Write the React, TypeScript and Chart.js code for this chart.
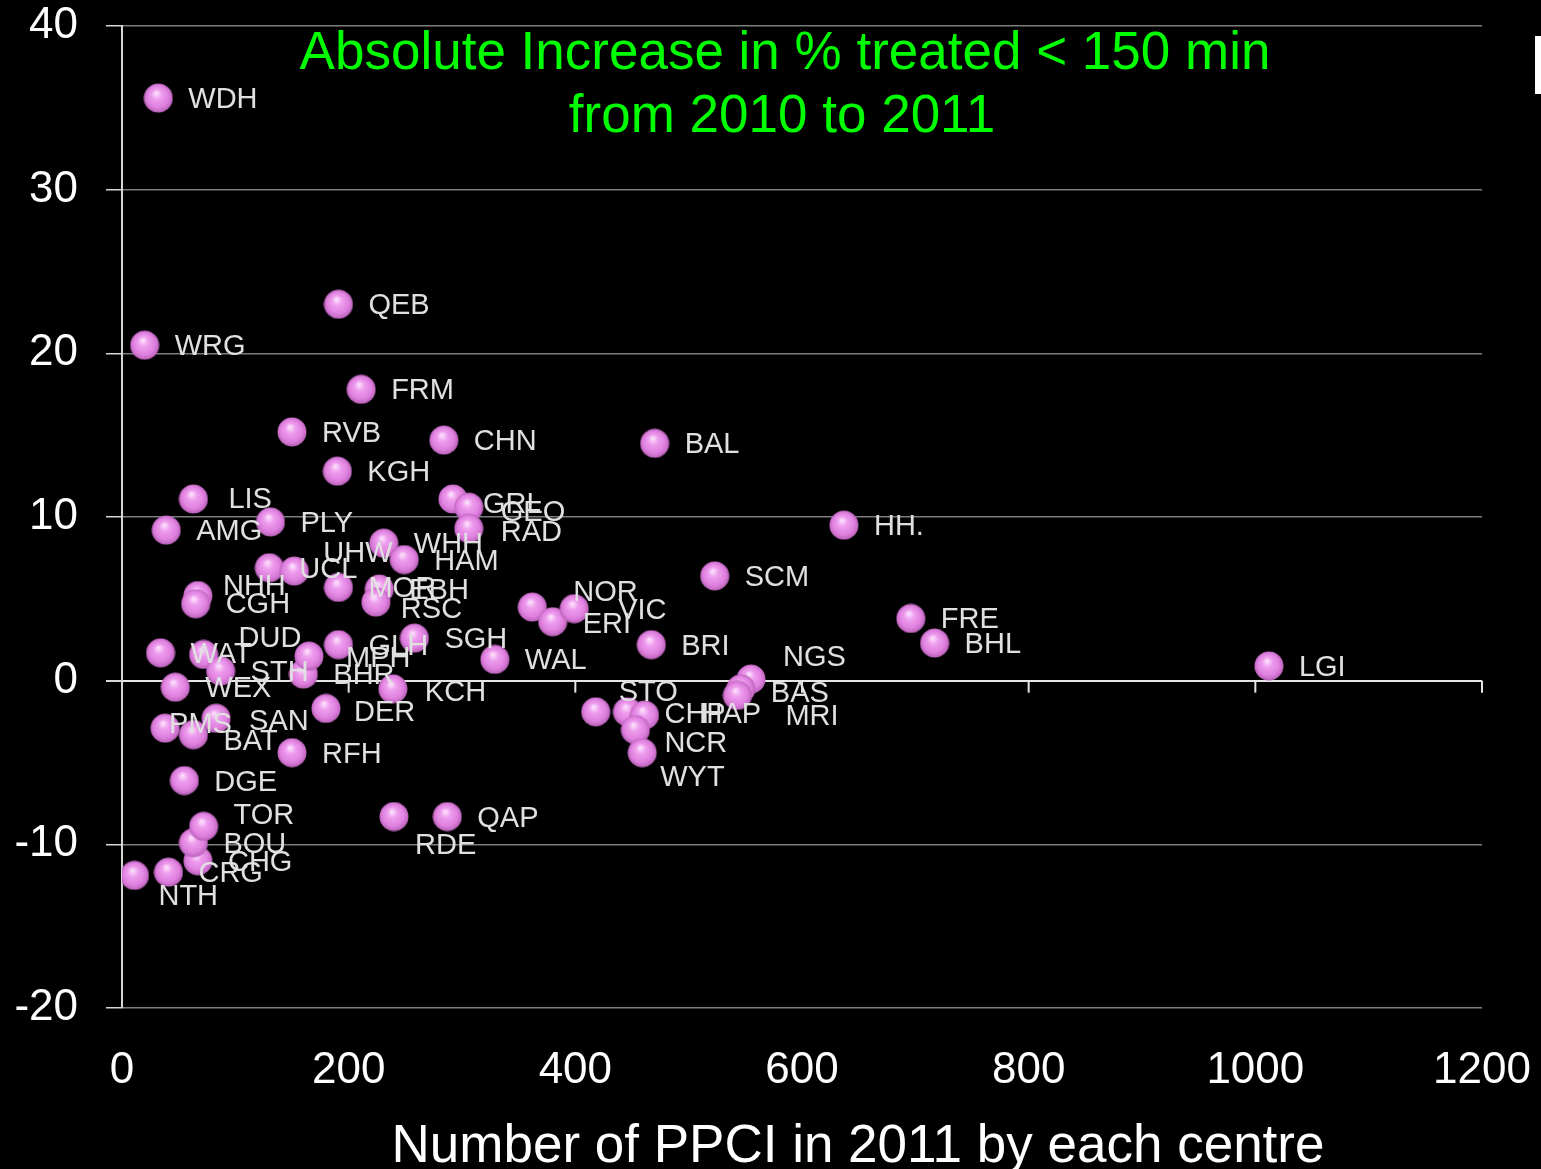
import React, { useEffect, useRef } from "react";
import { Chart, registerables } from "chart.js";

Chart.register(...registerables);

// ---- data ----
const centres = [
  "WDH", "QEB", "WRG", "FRM", "RVB", "CHN", "BAL", "KGH", "LIS", "GRL",
  "GEO", "RAD", "AMG", "PLY", "HH.", "WHH", "HAM", "NHH", "CGH", "UCL",
  "UHW", "MOR", "EBH", "RSC", "SCM", "NOR", "ERI", "VIC", "BRI", "FRE",
  "BHL", "LGI", "WAT", "DUD", "STH", "WEX", "BHR", "MPH", "GLH", "SGH",
  "WAL", "KCH", "DER", "STO", "CHP", "HAP", "NCR", "WYT", "NGS", "BAS",
  "MRI", "QAP", "RDE", "NTH", "CRG", "CHG", "BOU", "TOR", "DGE", "RFH",
  "BAT", "SAN", "PMS",
];

const ppci2011 = [
  32, 191, 20, 211, 150, 284, 470, 190, 63, 292,
  306, 306, 39, 131, 637, 231, 249, 67, 65, 130,
  152, 191, 227, 224, 523, 362, 380, 399, 467, 696,
  717, 1012, 34, 72, 87, 47, 160, 165, 191, 258,
  329, 239, 180, 418, 446, 461, 453, 459, 555, 546,
  543, 287, 240, 11, 41, 67, 63, 72, 55, 150,
  63, 83, 38,
];

const increasePct = [
  35.6, 23.0, 20.5, 17.8, 15.2, 14.7, 14.5, 12.8, 11.1, 11.1,
  10.6, 9.3, 9.2, 9.7, 9.5, 8.4, 7.4, 5.2, 4.7, 6.9,
  6.7, 5.7, 5.6, 4.8, 6.4, 4.5, 3.6, 4.4, 2.2, 3.8,
  2.3, 0.9, 1.7, 1.6, 0.6, -0.4, 0.4, 1.5, 2.2, 2.6,
  1.3, -0.5, -1.7, -1.9, -1.9, -2.1, -3.0, -4.4, 0.1, -0.5,
  -0.9, -8.3, -8.3, -11.9, -11.7, -11.0, -9.9, -8.9, -6.1, -4.4,
  -3.3, -2.3, -2.9,
];

const xTickValues = [0, 200, 400, 600, 800, 1000, 1200];
const yTickValues = [-20, -10, 0, 10, 20, 30, 40];

const titleLines = ["Absolute Increase in % treated < 150 min", "from 2010 to 2011"];
const xAxisTitle = "Number of PPCI in 2011 by each centre";

// ---- label placement (pixel offsets from the point centre) ----
const DEFAULT_OFFSET: [number, number] = [30, 2];
const labelOffsets: Record<string, [number, number]> = {
  UHW: [29, -17], NHH: [25, -9], CGH: [30, 1], RSC: [25, 8], NOR: [41, -14],
  VIC: [44, 2], ERI: [30, 3], DUD: [35, -15], STO: [23, -19], CHP: [37, 3],
  HAP: [57, 0], NCR: [29, 14], WYT: [18, 25], NGS: [32, -21], BAS: [30, 5],
  MRI: [48, 22], NTH: [24, 22], TOR: [30, -10], BAT: [30, 7], SAN: [33, 4],
  PMS: [4, -3], MPH: [37, 3], RDE: [21, 29], GRL: [30, 6], GEO: [32, 6],
  RAD: [32, 5], KCH: [32, 4], DER: [28, 5], LIS: [35, 1],
};

const FONT = '"Liberation Sans", Arial, Helvetica, sans-serif';

function makeSphere(): HTMLCanvasElement {
  const size = 30;
  const c = document.createElement("canvas");
  c.width = size;
  c.height = size;
  const g = c.getContext("2d")!;
  const r = size / 2;
  const grad = g.createRadialGradient(r - 2, r - 5, 1, r, r, r);
  grad.addColorStop(0, "#fbdcfb");
  grad.addColorStop(0.3, "#ee9cee");
  grad.addColorStop(0.72, "#df80df");
  grad.addColorStop(1, "#b45eb4");
  g.fillStyle = grad;
  g.beginPath();
  g.arc(r, r, r - 0.5, 0, Math.PI * 2);
  g.fill();
  return c;
}

export default function App() {
  const canvasRef = useRef<HTMLCanvasElement | null>(null);

  useEffect(() => {
    document.body.style.margin = "0";
    document.body.style.background = "#000";
    const canvas = canvasRef.current;
    if (!canvas) return;

    const sphere = makeSphere();
    const points = centres.map((_, i) => ({ x: ppci2011[i], y: increasePct[i] }));

    const decorPlugin = {
      id: "decor",
      beforeDatasetsDraw(chart: any) {
        const { ctx, scales } = chart;
        const y0 = scales.y.getPixelForValue(0);
        ctx.save();
        ctx.strokeStyle = "#e6e6e6";
        ctx.lineWidth = 2;
        xTickValues.forEach((v) => {
          if (v === 0) return;
          const px = scales.x.getPixelForValue(v);
          ctx.beginPath();
          ctx.moveTo(px, y0);
          ctx.lineTo(px, y0 + 12);
          ctx.stroke();
        });
        ctx.restore();
      },
      afterDatasetsDraw(chart: any) {
        const { ctx } = chart;
        const meta = chart.getDatasetMeta(0);
        ctx.save();
        ctx.font = `29px ${FONT}`;
        ctx.fillStyle = "#e0e0e0";
        ctx.textAlign = "left";
        ctx.textBaseline = "middle";
        meta.data.forEach((el: any, i: number) => {
          const name = centres[i];
          const [dx, dy] = labelOffsets[name] || DEFAULT_OFFSET;
          ctx.fillText(name, el.x + dx, el.y + dy);
        });
        ctx.restore();
      },
      afterDraw(chart: any) {
        const { ctx } = chart;
        ctx.save();
        ctx.font = `53px ${FONT}`;
        ctx.fillStyle = "#00ff00";
        ctx.textAlign = "center";
        ctx.textBaseline = "alphabetic";
        ctx.fillText(titleLines[0], 785, 69);
        ctx.fillText(titleLines[1], 782, 132);
        ctx.fillStyle = "#ffffff";
        ctx.fillText(xAxisTitle, 858, 1162);
        // small slide artefact at right edge
        ctx.fillStyle = "#ffffff";
        ctx.fillRect(1535, 36, 6, 58);
        ctx.restore();
      },
    };

    const chart = new Chart(canvas, {
      type: "scatter",
      data: {
        datasets: [
          {
            data: points,
            pointStyle: sphere as any,
            pointRadius: 15,
            pointHoverRadius: 15,
          },
        ],
      },
      options: {
        responsive: false,
        animation: false,
        events: [],
        layout: { padding: { top: 26, right: 59, left: 0, bottom: 0 } },
        plugins: {
          legend: { display: false },
          tooltip: { enabled: false },
          title: { display: false },
        },
        scales: {
          x: {
            type: "linear",
            min: 0,
            max: 1200,
            afterBuildTicks: (scale: any) => {
              scale.ticks = xTickValues.map((v) => ({ value: v }));
            },
            afterFit: (scale: any) => {
              scale.height = 161;
              scale.paddingLeft = 0;
              scale.paddingRight = 0;
            },
            grid: { display: false, drawTicks: false },
            border: { display: false },
            ticks: {
              color: "#ffffff",
              font: { size: 44, family: FONT },
              padding: 36,
              maxRotation: 0,
              autoSkip: false,
              callback: (v: any) => String(v),
            },
          },
          y: {
            type: "linear",
            min: -20,
            max: 40,
            afterBuildTicks: (scale: any) => {
              scale.ticks = yTickValues.map((v) => ({ value: v }));
            },
            afterFit: (scale: any) => {
              scale.width = 122;
              scale.paddingTop = 0;
              scale.paddingBottom = 0;
            },
            grid: {
              color: (c: any) => (c.tick && c.tick.value === 0 ? "#e6e6e6" : "#7c7c7c"),
              lineWidth: (c: any) => (c.tick && c.tick.value === 0 ? 2 : 1.5),
              tickColor: "#d6d6d6",
              tickLength: 16,
              drawTicks: true,
            },
            border: { display: true, color: "#d6d6d6", width: 2 },
            ticks: {
              color: "#ffffff",
              font: { size: 44, family: FONT },
              padding: 28,
              autoSkip: false,
              callback: (v: any) => String(v),
            },
          },
        },
      },
      plugins: [decorPlugin],
    });

    return () => {
      chart.destroy();
    };
  }, []);

  return (
    <div style={{ width: 1541, height: 1169, background: "#000", position: "relative" }}>
      <canvas ref={canvasRef} width={1541} height={1169} style={{ display: "block" }} />
    </div>
  );
}
